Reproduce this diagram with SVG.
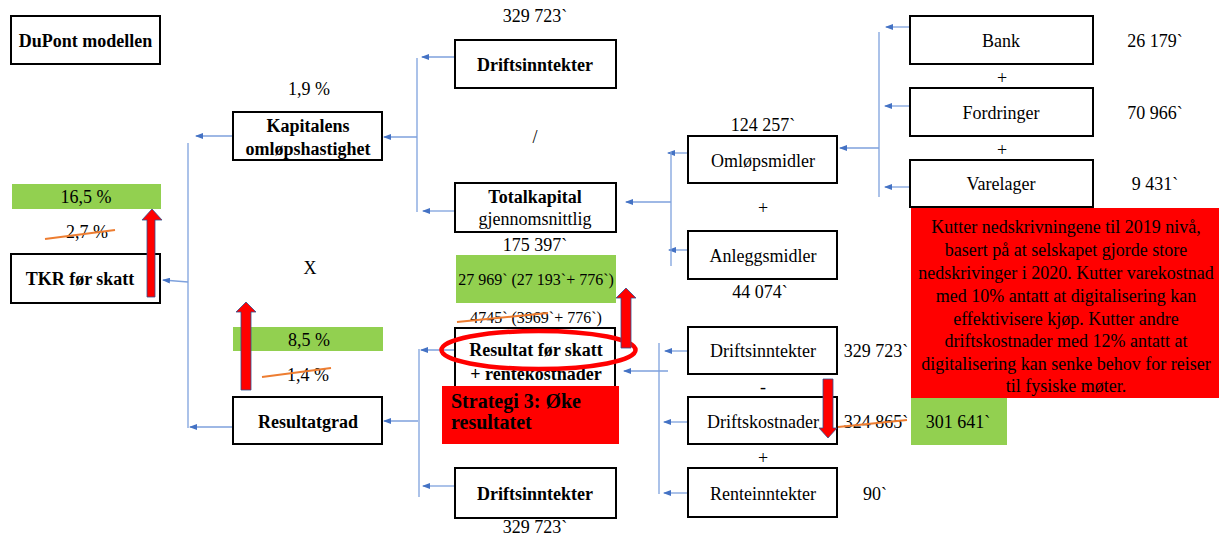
<svg xmlns="http://www.w3.org/2000/svg" width="1220" height="541" viewBox="0 0 1220 541">
<style>
text{font-family:"Liberation Serif","Times New Roman",serif;fill:#000;text-anchor:middle}
.b{font-weight:bold;font-size:18px}
.r{font-size:18px}
.s{font-size:16px}
.box{fill:#fff;stroke:#000;stroke-width:2}
.green{fill:#92D050}
.red{fill:#FF0000}
.conn path{fill:none;stroke:#7EA1DD;stroke-width:1.3}
.conn .a{marker-end:url(#ah)}
.strike{stroke:#ED7D31;stroke-width:2;fill:none}
.bigarrow{fill:#FF0000;stroke:#2F528F;stroke-width:0.8}
</style>
<defs>
<marker id="ah" markerWidth="8" markerHeight="6" refX="7" refY="3" orient="auto" markerUnits="userSpaceOnUse">
<path d="M0,0 L8,3 L0,6 z" fill="#4472C4"/>
</marker>
</defs>
<rect width="1220" height="541" fill="#fff"/>

<g id="connectors" class="conn">
<path class="a" d="M910,27 H886"/>
<path class="a" d="M910,106 H885"/>
<path class="a" d="M910,187 H885"/>
<path d="M879,32 V197"/>
<path class="a" d="M879,148 H840"/>
<path class="a" d="M688,153 H668"/>
<path class="a" d="M688,250 H669"/>
<path d="M671,152 V266"/>
<path class="a" d="M671,202 H626"/>
<path class="a" d="M688,351 H665"/>
<path class="a" d="M688,422 H664"/>
<path class="a" d="M688,493 H664"/>
<path d="M659,343 V494"/>
<path class="a" d="M668,371 H624"/>
<path class="a" d="M455,350 H421"/>
<path class="a" d="M455,486 H423"/>
<path d="M419,349 V497"/>
<path class="a" d="M418,421 H384"/>
<path class="a" d="M455,57 H422"/>
<path class="a" d="M455,211 H423"/>
<path d="M417,58 V212"/>
<path class="a" d="M417,137 H384"/>
<path class="a" d="M233,136 H196"/>
<path d="M188,143 V428"/>
<path class="a" d="M188,282 L163,280"/>
<path class="a" d="M233,427 H190"/>
</g>

<g id="title">
<rect class="box" x="11" y="16" width="149" height="48"/>
<text class="b" x="85.5" y="47">DuPont modellen</text>
</g>

<g id="tkr">
<rect class="green" x="12" y="184" width="149" height="25"/>
<text class="r" x="86" y="203">16,5 %</text>
<text class="r" x="87" y="238">2,7 %</text>
<path class="strike" d="M45,239 L115,230"/>
<rect class="box" x="11" y="254" width="149" height="49"/>
<text class="b" x="80" y="285">TKR før skatt</text>
<path class="bigarrow" d="M147,297 V220 H142 L152,209 L162,220 H155 V297 Z"/>
</g>

<g id="kapitalens">
<text class="r" x="309" y="95">1,9 %</text>
<rect class="box" x="233" y="112" width="149" height="48"/>
<text class="b" x="308" y="132">Kapitalens</text>
<text class="b" x="308" y="155">omløpshastighet</text>
</g>

<text class="r" x="310" y="274">X</text>

<g id="resultatgrad">
<rect class="green" x="233" y="327" width="150" height="24"/>
<text class="r" x="309" y="346">8,5 %</text>
<text class="r" x="308" y="381">1,4 %</text>
<path class="strike" d="M262,377 L331,368"/>
<rect class="box" x="233" y="397" width="149" height="47"/>
<text class="b" x="308" y="428">Resultatgrad</text>
<path class="bigarrow" d="M241,390 V312 H236 L246,302 L256,312 H251 V390 Z"/>
</g>

<g id="driftsinntekter-top">
<text class="r" x="535" y="22">329 723`</text>
<rect class="box" x="455" y="40" width="161" height="48"/>
<text class="b" x="535" y="71">Driftsinntekter</text>
</g>

<text class="r" x="535" y="143">/</text>

<g id="totalkapital">
<rect class="box" x="455" y="183" width="161" height="49"/>
<text class="b" x="535" y="203">Totalkapital</text>
<text class="r" x="535" y="225">gjennomsnittlig</text>
<text class="r" x="535" y="251">175 397`</text>
</g>

<g id="resultat">
<rect class="green" x="456" y="255" width="160" height="48"/>
<text class="s" x="536" y="285">27 969` (27 193`+ 776`)</text>
<text class="s" x="536" y="323">4745` (3969`+ 776`)</text>
<path class="strike" d="M457,322 L548,313"/>
<rect class="box" x="455" y="328" width="160" height="68"/>
<text class="b" x="536" y="356">Resultat før skatt</text>
<text class="b" x="536" y="380">+ rentekostnader</text>
<ellipse cx="538.5" cy="350" rx="97" ry="19" fill="none" stroke="#FF0000" stroke-width="4.5"/>
<path class="bigarrow" d="M621,348 V298 H616 L626,288 L636,298 H631 V348 Z"/>
<rect class="red" x="442" y="386" width="177" height="58"/>
<text style="font-size:20px;font-weight:bold;text-anchor:start" x="451" y="408">Strategi 3: Øke</text>
<text style="font-size:20px;font-weight:bold;text-anchor:start" x="451" y="429">resultatet</text>
</g>

<g id="driftsinntekter-bottom">
<rect class="box" x="455" y="468" width="161" height="50"/>
<text class="b" x="535" y="500">Driftsinntekter</text>
<text class="r" x="535" y="533">329 723`</text>
</g>

<g id="omlopsmidler">
<text class="r" x="763" y="131">124 257`</text>
<rect class="box" x="688" y="136" width="149" height="47"/>
<text class="r" x="763" y="167">Omløpsmidler</text>
</g>

<text class="r" x="763" y="214">+</text>

<g id="anleggsmidler">
<rect class="box" x="688" y="231" width="149" height="48"/>
<text class="r" x="763" y="262">Anleggsmidler</text>
<text class="r" x="760" y="298">44 074`</text>
</g>

<g id="driftsinntekter-right">
<rect class="box" x="688" y="327" width="149" height="47"/>
<text class="r" x="763" y="357">Driftsinntekter</text>
<text class="r" x="876" y="357">329 723`</text>
</g>

<text class="r" x="763" y="393">-</text>

<g id="driftskostnader">
<rect class="box" x="688" y="397" width="149" height="47"/>
<text class="r" x="763" y="428">Driftskostnader</text>
<text class="r" x="876" y="428">324 865`</text>
<path class="strike" d="M838,427 L907,420"/>
<path class="bigarrow" d="M823,379 V428 H819 L828,438 L837,428 H833 V379 Z"/>
<rect class="green" x="911" y="398" width="96" height="47"/>
<text class="r" x="958" y="428">301 641`</text>
</g>

<text class="r" x="763" y="464">+</text>

<g id="renteinntekter">
<rect class="box" x="688" y="468" width="149" height="49"/>
<text class="r" x="763" y="500">Renteinntekter</text>
<text class="r" x="875" y="500">90`</text>
</g>

<g id="bank">
<rect class="box" x="910" y="16" width="183" height="48"/>
<text class="r" x="1001" y="47">Bank</text>
<text class="r" x="1155" y="47">26 179`</text>
</g>

<text class="r" x="1002" y="84">+</text>

<g id="fordringer">
<rect class="box" x="910" y="88" width="183" height="48"/>
<text class="r" x="1001" y="119">Fordringer</text>
<text class="r" x="1155" y="119">70 966`</text>
</g>

<text class="r" x="1002" y="156">+</text>

<g id="varelager">
<rect class="box" x="910" y="160" width="183" height="47"/>
<text class="r" x="1001" y="190">Varelager</text>
<text class="r" x="1155" y="190">9 431`</text>
</g>

<g id="note">
<rect class="red" x="911" y="208" width="308" height="190"/>
<text class="r" x="1066" y="233">Kutter nedskrivningene til 2019 nivå,</text>
<text class="r" x="1066" y="256">basert på at selskapet gjorde store</text>
<text class="r" x="1066" y="279">nedskrivinger i 2020. Kutter varekostnad</text>
<text class="r" x="1066" y="302">med 10% antatt at digitalisering kan</text>
<text class="r" x="1066" y="325">effektivisere kjøp. Kutter andre</text>
<text class="r" x="1066" y="347">driftskostnader med 12% antatt at</text>
<text class="r" x="1066" y="370">digitalisering kan senke behov for reiser</text>
<text class="r" x="1066" y="392">til fysiske møter.</text>
</g>
</svg>
